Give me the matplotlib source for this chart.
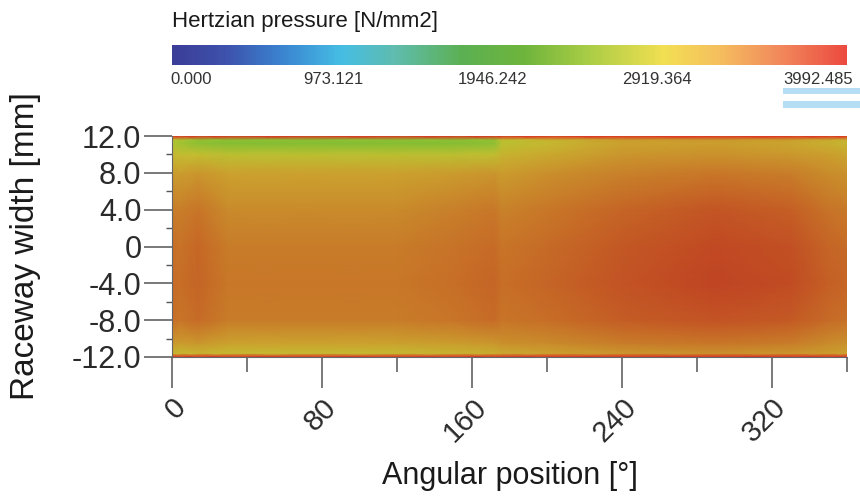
import numpy as np
import matplotlib
matplotlib.use("Agg")
import matplotlib.pyplot as plt
from matplotlib.colors import LinearSegmentedColormap, Normalize
from matplotlib.cm import ScalarMappable
from matplotlib.patches import Rectangle

plt.rcParams['font.family'] = ['Liberation Sans', 'DejaVu Sans']

# Valores (presion de Hertz en N/mm2)
angle_deg = [0, 4, 14, 30, 70, 120, 150, 172, 176, 200, 240, 290, 330, 350, 360]
width_mm = [-12.0, -11.6, -10.5, -8.0, -4.0, 0.0, 4.0, 8.0, 10.0, 11.2, 11.6, 12.0]

p_m12 = [3950] * 15
p_m116 = [2800, 2750, 2800, 2750, 2750, 2750, 2800, 2850, 2900, 2950, 3050, 3100, 3050, 3000, 2950]
p_m105 = [3050, 3000, 3050, 2950, 2950, 2950, 3000, 3050, 3100, 3150, 3250, 3300, 3250, 3150, 3100]
p_m8 = [3350, 3300, 3380, 3250, 3250, 3250, 3300, 3380, 3300, 3350, 3480, 3580, 3520, 3380, 3330]
p_m4 = [3380, 3350, 3420, 3280, 3280, 3280, 3350, 3420, 3350, 3430, 3580, 3730, 3660, 3470, 3420]
p_0 = [3350, 3320, 3400, 3250, 3250, 3250, 3320, 3380, 3300, 3380, 3530, 3690, 3610, 3420, 3370]
p_4 = [3250, 3230, 3300, 3150, 3150, 3150, 3220, 3280, 3200, 3280, 3430, 3560, 3470, 3320, 3270]
p_8 = [3000, 2980, 3050, 2950, 2950, 2950, 3000, 3050, 3000, 3100, 3200, 3280, 3230, 3130, 3080]
p_10 = [2750, 2700, 2700, 2620, 2620, 2620, 2620, 2680, 2800, 2900, 3050, 3080, 3030, 2980, 2930]
p_112 = [2500, 2350, 2200, 2150, 2150, 2150, 2150, 2200, 2600, 2750, 2950, 2980, 2930, 2830, 2780]
p_116 = [2600, 2450, 2250, 2200, 2200, 2200, 2200, 2250, 2650, 2800, 3000, 3030, 2980, 2880, 2830]
p_12 = [3950] * 15

p_max = 3992.485
cbar_labels = ["0.000", "973.121", "1946.242", "2919.364", "3992.485"]
cbar_label_px = [170, 303, 458, 622, 783]   # borde izquierdo de cada etiqueta

x_major = [0, 80, 160, 240, 320]
x_minor = [40, 120, 200, 280, 360]
y_major = [-12, -8, -4, 0, 4, 8, 12]
y_labels = ["-12.0", "-8.0", "-4.0", "0", "4.0", "8.0", "12.0"]
y_minor = [-10, -6, -2, 2, 6, 10]

P = np.array([p_m12, p_m116, p_m105, p_m8, p_m4, p_0, p_4, p_8, p_10, p_112, p_116, p_12])

# colormap de la barra (colores vivos) y del mapa (sombreado)
cbar_cmap = LinearSegmentedColormap.from_list("cbar", [
    (0.00, "#3b3d97"), (0.08, "#3d52ac"), (0.16, "#3a82cf"), (0.25, "#45bde4"),
    (0.33, "#5fbcae"), (0.43, "#5cb052"), (0.52, "#6db43c"), (0.62, "#abcd45"),
    (0.73, "#f2df52"), (0.81, "#f5bf5e"), (0.90, "#f18a5c"), (1.00, "#ec4a40")])
heat_cmap = LinearSegmentedColormap.from_list("heat", [
    (0.00, "#3b3d97"), (0.45, "#5aaa3c"), (0.52, "#7cbb34"), (0.60, "#a8c431"),
    (0.68, "#c4bd30"), (0.74, "#cba22e"), (0.79, "#c98a2b"), (0.84, "#c76e27"),
    (0.89, "#c35624"), (0.94, "#c04423"), (1.00, "#e12823")])
norm = Normalize(0, p_max)

W, H = 860, 499
fig = plt.figure(figsize=(W / 100, H / 100), dpi=100)

ax = fig.add_axes([172 / W, 1 - 357 / H, 675 / W, 221 / H])
ax.pcolormesh(angle_deg, width_mm, P, shading='gouraud', cmap=heat_cmap, norm=norm)
ax.set_xlim(0, 360)
ax.set_ylim(-12, 12)

ax.set_xticks(x_major)
ax.set_xticks(x_minor, minor=True)
ax.set_xticklabels([str(v) for v in x_major], rotation=45, ha='right', va='top',
                   rotation_mode='anchor')
ax.set_yticks(y_major)
ax.set_yticklabels(y_labels)
ax.set_yticks(y_minor, minor=True)

ax.tick_params(axis='x', which='major', length=22, width=1.1, color='#555555',
               labelsize=21, labelcolor='#2a2a2a', pad=4)
ax.tick_params(axis='x', which='minor', length=11, width=1.1, color='#555555')
ax.tick_params(axis='y', which='major', length=20, width=1.1, color='#555555',
               labelsize=22, labelcolor='#2a2a2a', pad=2)
ax.tick_params(axis='y', which='minor', length=4, width=1.0, color='#555555')

for s in ['top', 'right']:
    ax.spines[s].set_visible(False)
for s in ['left', 'bottom']:
    ax.spines[s].set_color('#666666')
    ax.spines[s].set_linewidth(0.8)

ax.set_xlabel("Angular position [°]", fontsize=22, color='#1a1a1a', labelpad=10)
ax.set_ylabel("Raceway width [mm]", fontsize=24, color='#1a1a1a', labelpad=22)

# barra de colores
cax = fig.add_axes([172 / W, 1 - 65 / H, 675 / W, 20 / H])
cb = fig.colorbar(ScalarMappable(norm=norm, cmap=cbar_cmap), cax=cax, orientation='horizontal')
cb.outline.set_visible(False)
cax.set_xticks([])

fig.text(172 / W, 1 - 22 / H, "Hertzian pressure [N/mm2]", fontsize=16,
         va='center', ha='left', color='#1a1a1a')
for lbl, px in zip(cbar_labels, cbar_label_px):
    fig.text(px / W, 1 - 80 / H, lbl, fontsize=12, va='center', ha='left', color='#333333')

# resaltado celeste bajo la ultima etiqueta
fig.add_artist(Rectangle((783 / W, 1 - 94 / H), 77 / W, 6 / H, transform=fig.transFigure,
                         color='#b5ddf3', lw=0))
fig.add_artist(Rectangle((783 / W, 1 - 108 / H), 77 / W, 7 / H, transform=fig.transFigure,
                         color='#b5ddf3', lw=0))

fig.savefig("out.png", dpi=100)
